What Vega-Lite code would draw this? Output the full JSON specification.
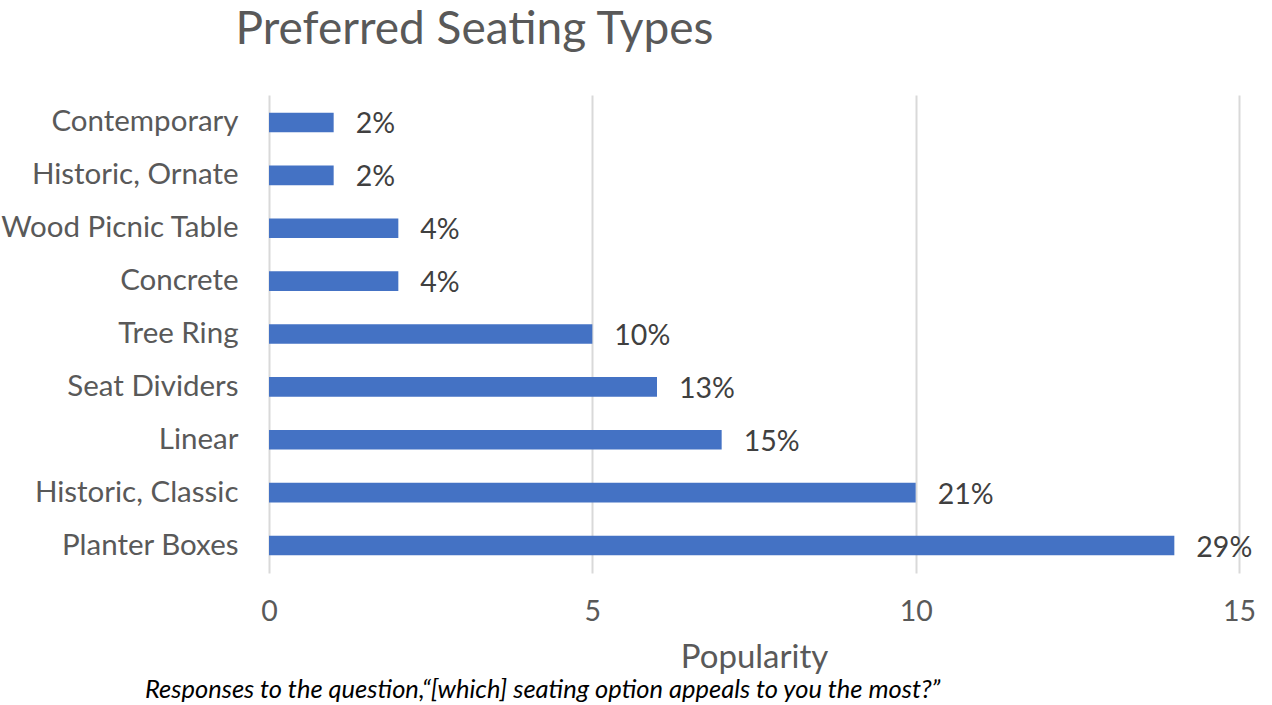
{
  "$schema": "https://vega.github.io/schema/vega-lite/v6.json",
  "autosize": "none",
  "width": 970,
  "height": 478,
  "padding": {"left": 269, "top": 95, "right": 33, "bottom": 132},
  "background": "white",
  "title": {
    "text": "Responses to the question,“[which] seating option appeals to you the most?”",
    "orient": "bottom",
    "anchor": "start",
    "frame": "group",
    "dx": -124,
    "offset": 3,
    "font": "Lato",
    "fontStyle": "italic",
    "fontWeight": "normal",
    "fontSize": 25.5,
    "color": "#000000"
  },
  "config": {
    "view": {"stroke": null},
    "font": "Lato"
  },
  "data": {
    "values": [
      {"type": "Contemporary", "count": 1, "pct": "2%"},
      {"type": "Historic, Ornate", "count": 1, "pct": "2%"},
      {"type": "Wood Picnic Table", "count": 2, "pct": "4%"},
      {"type": "Concrete", "count": 2, "pct": "4%"},
      {"type": "Tree Ring", "count": 5, "pct": "10%"},
      {"type": "Seat Dividers", "count": 6, "pct": "13%"},
      {"type": "Linear", "count": 7, "pct": "15%"},
      {"type": "Historic, Classic", "count": 10, "pct": "21%"},
      {"type": "Planter Boxes", "count": 14, "pct": "29%"}
    ]
  },
  "encoding": {
    "y": {
      "field": "type",
      "type": "nominal",
      "sort": null,
      "scale": {"paddingInner": 0.63, "paddingOuter": 0.335},
      "axis": {
        "title": "Preferred Seating Types",
        "titleAngle": 0,
        "titleX": -34,
        "titleY": -52,
        "titleAlign": "left",
        "titleBaseline": "alphabetic",
        "titleFontSize": 46,
        "titleFontWeight": "normal",
        "titleColor": "#595959",
        "titleFont": "Lato",
        "labelFontSize": 29.5,
        "labelColor": "#595959",
        "labelPadding": 31,
        "ticks": false,
        "domain": false,
        "labelLimit": 400
      }
    }
  },
  "layer": [
    {
      "mark": {"type": "bar", "color": "#4472C4"},
      "encoding": {
        "x": {
          "field": "count",
          "type": "quantitative",
          "scale": {"domain": [0, 15], "nice": false},
          "axis": {
            "values": [0, 5, 10, 15],
            "format": "d",
            "labelFlush": false,
            "title": "Popularity",
            "titleFontSize": 33,
            "titleFontWeight": "normal",
            "titleColor": "#595959",
            "titlePadding": 16,
            "labelFontSize": 28.5,
            "labelColor": "#595959",
            "labelPadding": 24,
            "gridColor": "#D9D9D9",
            "gridWidth": 2,
            "domain": false,
            "ticks": false
          }
        }
      }
    },
    {
      "mark": {"type": "text", "align": "left", "baseline": "middle", "dx": 22, "dy": 2, "fontSize": 28.5, "color": "#404040"},
      "encoding": {
        "x": {"field": "count", "type": "quantitative"},
        "text": {"field": "pct"}
      }
    }
  ]
}
